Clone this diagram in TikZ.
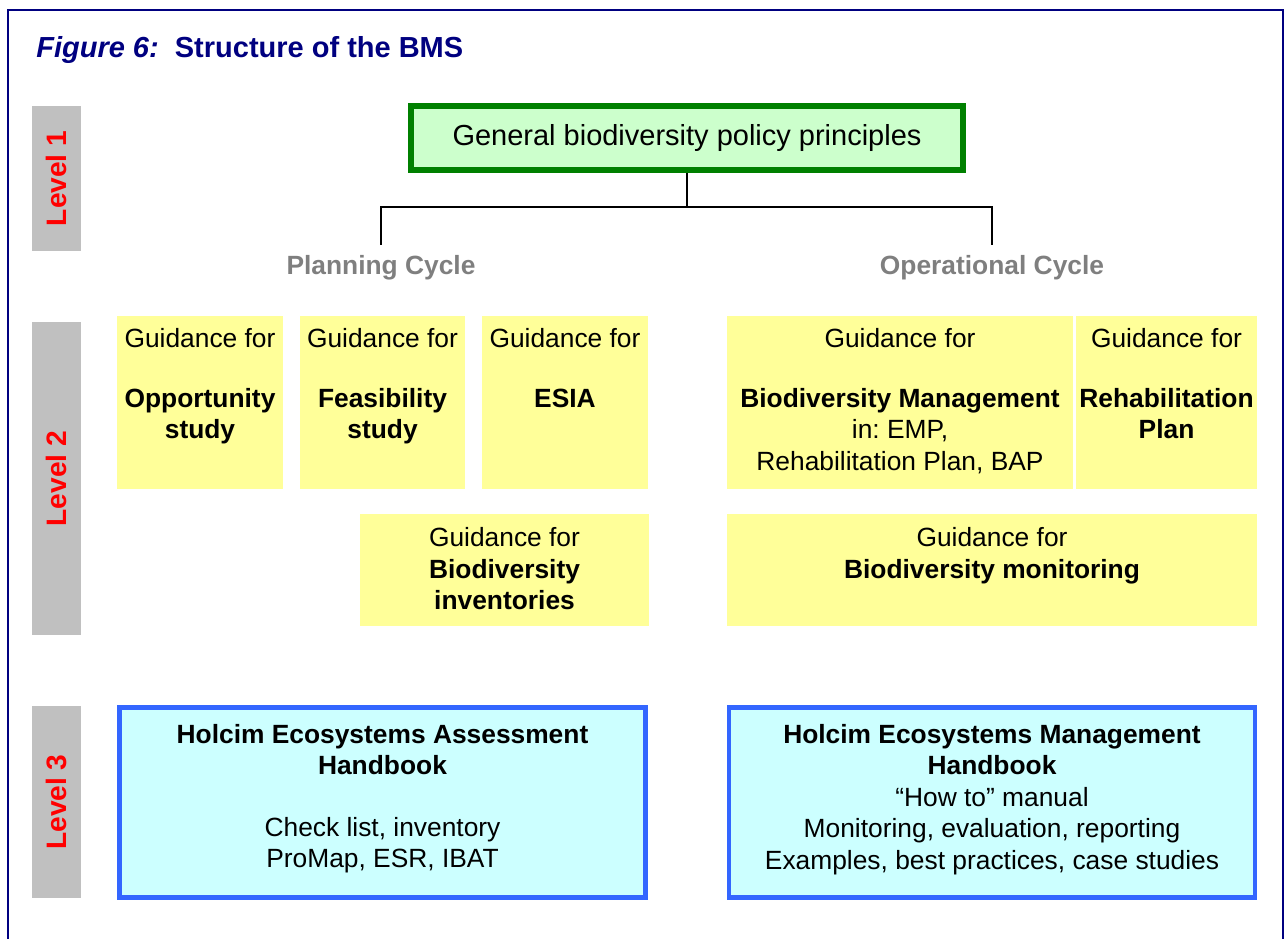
\documentclass[tikz,border=0pt]{standalone}
\usepackage{fontspec}
\setmainfont{Liberation Sans}
\usetikzlibrary{positioning}
\definecolor{framenavy}{HTML}{000080}
\definecolor{lvlgray}{HTML}{C0C0C0}
\definecolor{cycgray}{HTML}{7F7F7F}
\definecolor{polgreen}{HTML}{008000}
\definecolor{polfill}{HTML}{CCFFCC}
\definecolor{guideyellow}{HTML}{FFFF99}
\definecolor{hbblue}{HTML}{3366FF}
\definecolor{hbfill}{HTML}{CCFFFF}
\frenchspacing
\begin{document}
\begin{tikzpicture}[
		lvlbox/.style={fill=lvlgray, minimum width=0.98cm, inner sep=0},
		lvltxt/.style={text=red, font=\fontsize{16}{19}\selectfont\bfseries, rotate=90, inner sep=0},
		guidebox/.style={fill=guideyellow, inner sep=0},
		boxtxt/.style={align=center, inner sep=0, font=\fontsize{15}{18}\selectfont},
		hbbox/.style={draw=hbblue, line width=2.8pt, fill=hbfill, minimum width=10.52cm, minimum height=3.8cm, inner sep=0},
		cyc/.style={text=cycgray, font=\fontsize{15}{18}\selectfont\bfseries, inner sep=0, outer ysep=0.21cm}
	]
		\useasboundingbox (0,0) rectangle (25.7,-18.76);
		% Frame and title
		\draw[framenavy, line width=1.1pt] (0.16,-0.2) rectangle (25.66,-19.5);
		\node[anchor=base west, text=framenavy, inner sep=0, font=\fontsize{16.5}{20}\selectfont\bfseries] (title) at (0.72,-1.14) {\textit{Figure 6:}\ \ Structure of the BMS};

		% Levels
		\node[lvlbox, minimum height=2.9cm] (lvl1) at (1.13,-3.57) {};
		\node[lvltxt] (lvl1txt) at (lvl1) {Level 1};
		\node[lvlbox, minimum height=6.26cm] (lvl2) at (1.13,-9.57) {};
		\node[lvltxt] (lvl2txt) at (lvl2) {Level 2};
		\node[lvlbox, minimum height=3.84cm] (lvl3) at (1.13,-16.04) {};
		\node[lvltxt] (lvl3txt) at (lvl3) {Level 3};

		% Level 1
		\node[draw=polgreen, line width=3.4pt, fill=polfill, minimum width=11.04cm, minimum height=1.28cm, inner sep=0, font=\fontsize{16.5}{20}\selectfont] (policy) at (13.74,-2.76) {General biodiversity policy principles};
		\node[cyc] (plan) at (7.62,-5.35) {Planning Cycle};
		\node[cyc] (oper) at (19.84,-5.35) {Operational Cycle};
		\coordinate (fork) at (13.74,-4.14);
		\draw[line width=1pt] (policy.south) -- (fork);
		\draw[line width=1pt] (plan.north) |- (fork) -| (oper.north);

		% Level 2, planning
		\node[guidebox, minimum width=3.32cm, minimum height=3.46cm] (opp) at (4.0,-8.05) {};
		\node[boxtxt, below=0.25cm of opp.north] (opptxt) {Guidance for\\[16pt] \textbf{Opportunity}\\ \textbf{study}};
		\node[guidebox, minimum width=3.3cm, minimum height=3.46cm] (feas) at (7.65,-8.05) {};
		\node[boxtxt, below=0.25cm of feas.north] (feastxt) {Guidance for\\[16pt] \textbf{Feasibility}\\ \textbf{study}};
		\node[guidebox, minimum width=3.32cm, minimum height=3.46cm] (esia) at (11.3,-8.05) {};
		\node[boxtxt, below=0.25cm of esia.north] (esiatxt) {Guidance for\\[16pt] \textbf{ESIA}};
		\node[guidebox, minimum width=5.78cm, minimum height=2.24cm] (inv) at (10.09,-11.4) {};
		\node[boxtxt, below=0.27cm of inv.north] (invtxt) {Guidance for\\ \textbf{Biodiversity}\\ \textbf{inventories}};

		% Level 2, operational
		\node[guidebox, minimum width=6.92cm, minimum height=3.46cm] (bdm) at (18.0,-8.05) {};
		\node[boxtxt, below=0.25cm of bdm.north] (bdmtxt) {Guidance for\\[16pt] \textbf{Biodiversity Management}\\ in: EMP,\\ Rehabilitation Plan, BAP};
		\node[guidebox, minimum width=3.62cm, minimum height=3.46cm] (rehab) at (23.33,-8.05) {};
		\node[boxtxt, below=0.25cm of rehab.north] (rehabtxt) {Guidance for\\[16pt] \textbf{Rehabilitation}\\ \textbf{Plan}};
		\node[guidebox, minimum width=10.6cm, minimum height=2.24cm] (mon) at (19.84,-11.4) {};
		\node[boxtxt, below=0.27cm of mon.north] (montxt) {Guidance for\\ \textbf{Biodiversity monitoring}};

		% Level 3
		\node[hbbox] (hea) at (7.65,-16.05) {};
		\node[boxtxt, below=0.37cm of hea.north] (heatxt) {\textbf{Holcim Ecosystems Assessment}\\ \textbf{Handbook}\\[17pt] Check list, inventory\\ ProMap, ESR, IBAT};
		\node[hbbox] (hem) at (19.84,-16.05) {};
		\node[boxtxt, below=0.37cm of hem.north] (hemtxt) {\textbf{Holcim Ecosystems Management}\\ \textbf{Handbook}\\ “How to” manual\\ Monitoring, evaluation, reporting\\ Examples, best practices, case studies};
	\end{tikzpicture}
\end{document}
